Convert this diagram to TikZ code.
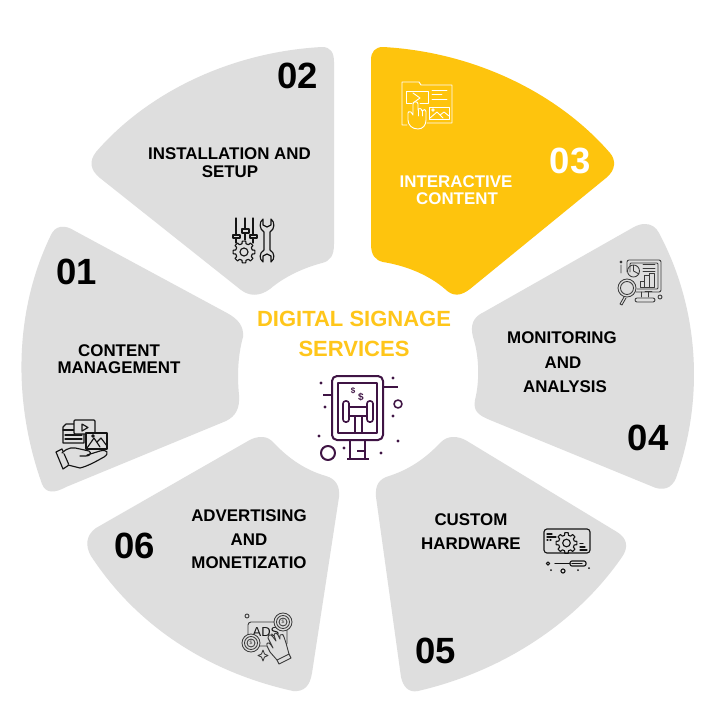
\documentclass[tikz,border=0pt]{standalone}
\usepackage{fontspec}
\setmainfont{Liberation Sans}
\definecolor{seggray}{HTML}{DEDEDE}
\definecolor{segyellow}{HTML}{FEC40D}
\definecolor{titleyellow}{HTML}{FFC61A}
\definecolor{iconpurple}{HTML}{3F1444}
\definecolor{icondark}{HTML}{141414}
\definecolor{iconsoft}{HTML}{3A3A3A}
\tikzset{
  segment/.style={fill=seggray,draw=none},
  active/.style={fill=segyellow,draw=none},
  label/.style={font=\fontsize{16.9}{18}\selectfont\bfseries,text=black,inner sep=0pt},
  whitelabel/.style={label,text=white},
  number/.style={font=\fontsize{36.5}{38}\selectfont\bfseries,text=black,inner sep=0pt},
  title/.style={font=\fontsize{22}{24}\selectfont\bfseries,text=titleyellow,inner sep=0pt},
  ico/.style={draw=icondark,line width=1.15pt,line join=round,line cap=round},
  icow/.style={draw=white,line width=0.9pt,line join=round,line cap=round},
  icos/.style={draw=iconsoft,line width=0.85pt,line join=round,line cap=round},
  icop/.style={draw=iconpurple,line width=2pt,line join=round},
  dotp/.style={fill=iconpurple,draw=none}
}
\begin{document}
\begin{tikzpicture}[x=1pt,y=-1pt]
\useasboundingbox (0,0) rectangle (705,723);
\fill[white] (0,0) rectangle (705,723);

% --- segments ---
% 01
\path[segment] (60,227) .. controls (66,226) and (70,228) .. (75,231)
  -- (227,313) .. controls (238,319) and (244,326) .. (243,337)
  .. controls (238,355) and (237,375) .. (239,395)
  .. controls (240,408) and (236,416) .. (226,421)
  -- (66,487) .. controls (55,493) and (46,494) .. (42,484)
  .. controls (12,400) and (15,310) .. (50,237)
  .. controls (53,230) and (56,228) .. (60,227) -- cycle;
% 02
\path[segment] (322,47) .. controls (331,47) and (334,53) .. (334,62)
  -- (334,244) .. controls (334,256) and (330,261) .. (322,263)
  .. controls (303,268) and (284,277) .. (270,289)
  .. controls (259,297) and (249,296) .. (241,290)
  -- (100,178) .. controls (90,170) and (89,161) .. (96,152)
  .. controls (147,93) and (230,52) .. (322,47) -- cycle;
% 03
\path[active] (383,47) .. controls (474,52) and (558,93) .. (610,153)
  .. controls (616,160) and (616,170) .. (606,178)
  -- (470,289) .. controls (461,296) and (453,297) .. (445,289)
  .. controls (430,276) and (408,266) .. (383,262)
  .. controls (375,260) and (371,255) .. (371,244)
  -- (371,60) .. controls (371,52) and (375,47) .. (383,47) -- cycle;
% 04
\path[segment] (645,224) .. controls (651,224) and (656,227) .. (659,233)
  .. controls (700,310) and (704,400) .. (676,478)
  .. controls (672,488) and (663,492) .. (651,486)
  -- (490,420) .. controls (478,415) and (473,411) .. (475,400)
  .. controls (480,380) and (479,355) .. (473,337)
  .. controls (470,325) and (473,317) .. (484,312)
  -- (634,227) .. controls (638,225) and (641,224) .. (645,224) -- cycle;
% 05
\path[segment] (453,437) .. controls (458,437) and (462,438) .. (467,441)
  -- (617,532) .. controls (627,538) and (629,547) .. (622,557)
  .. controls (575,625) and (500,672) .. (418,691)
  .. controls (408,693) and (403,686) .. (401,677)
  -- (376,497) .. controls (375,485) and (379,479) .. (389,476)
  .. controls (408,470) and (425,459) .. (440,443)
  .. controls (444,439) and (448,437) .. (453,437) -- cycle;
% 06
\path[segment] (262,437) .. controls (267,437) and (270,439) .. (274,443)
  .. controls (288,458) and (305,470) .. (326,476)
  .. controls (336,479) and (340,486) .. (339,497)
  -- (312,673) .. controls (310,686) and (304,692) .. (293,691)
  .. controls (207,672) and (136,625) .. (91,556)
  .. controls (85,546) and (86,535) .. (96,528)
  -- (248,441) .. controls (253,438) and (257,437) .. (262,437) -- cycle;

% --- texts ---
\node[number] (n01) at (77,272) {01};
\node[number] (n02) at (298,76) {02};
\node[number,text=white] (n03) at (570,161) {03};
\node[number] (n04) at (648,438) {04};
\node[number] (n05) at (436,651) {05};
\node[number] (n06) at (135,546) {06};

\node[label] (t1a) at (119,351) {CONTENT};
\node[label] (t1b) at (119,368) {MANAGEMENT};
\node[label] (t2a) at (229.5,154) {INSTALLATION AND};
\node[label] (t2b) at (230,172) {SETUP};
\node[whitelabel] (t3a) at (456,182) {INTERACTIVE};
\node[whitelabel] (t3b) at (457,199) {CONTENT};
\node[label] (t4a) at (562,338) {MONITORING};
\node[label] (t4b) at (563,363) {AND};
\node[label] (t4c) at (565,387) {ANALYSIS};
\node[label] (t5a) at (471,520) {CUSTOM};
\node[label] (t5b) at (471,544) {HARDWARE};
\node[label] (t6a) at (249,516) {ADVERTISING};
\node[label] (t6b) at (249,540) {AND};
\node[label] (t6c) at (249,563) {MONETIZATIO};

\node[title] (ta) at (354,319) {DIGITAL SIGNAGE};
\node[title] (tb) at (354,349) {SERVICES};

% --- centre icon ---
\draw[icop,rounded corners=5pt] (332,376) rectangle (383,440);
\draw[icop,line width=1.5pt] (338,383) rectangle (377,433);
\draw[icop] (323,395) -- (332,395);
\draw[icop] (383,387) -- (398,387);
\draw[icop,line width=1.6pt] (398,404) circle (4);
\draw[icop] (328,453) circle (7);
\foreach \dx/\dy in {321/383,325/407,393/378,393/416,398/441,319/436,344/448,381/453}
  \fill[dotp] (\dx,\dy) circle (1.6);
\draw[icop,line width=1.6pt,rounded corners=2.5pt] (343,401) rectangle (349,422);
\draw[icop,line width=1.6pt,rounded corners=2.5pt] (367,401) rectangle (373,422);
\draw[icop,line width=1.6pt] (349,407) rectangle (367,416);
\draw[icop,line width=1.6pt] (355,416) -- (355,433) (362,416) -- (362,433);
\draw[icop] (350,440) -- (350,459) (365,440) -- (365,459) (347,459) -- (369,459) (357,451) -- (365,451);
\node[font=\fontsize{8}{9}\selectfont\bfseries,text=iconpurple,inner sep=0pt] (d1) at (353,391) {\$};
\node[font=\fontsize{10}{10}\selectfont\bfseries,text=iconpurple,inner sep=0pt] (d2) at (361,397) {\$};

% --- icon 01 ---
\draw[ico,fill=seggray] (74,424) -- (66,424) -- (63,427) -- (63,443) -- (84,443) -- (84,433);
\draw[ico] (63,430) -- (74,430) (65,435) -- (82,435) (65,439) -- (82,439);
\draw[ico,fill=seggray,rounded corners=1pt] (74,420) rectangle (95,434);
\draw[ico] (82,424) -- (88,427.5) -- (82,431) -- cycle;
\draw[ico,fill=seggray] (86,433) rectangle (107,449);
\draw[ico] (87,448) -- (94,438) -- (100,447) (97,442) -- (101,438) -- (107,446);
\draw[ico] (93,436) circle (1.3);
\draw[ico,fill=seggray] (56,452) -- (62,449) -- (69,465) -- (63,469) -- cycle;
\draw[ico,fill=seggray] (62,453) .. controls (68,447) and (73,447) .. (80,449)
  -- (89,451) .. controls (92,453) and (90,456) .. (86,456) -- (80,456)
  (87,455) -- (100,451) .. controls (107,449) and (110,453) .. (104,457)
  .. controls (95,462) and (88,466) .. (80,468) -- (68,465);

% --- icon 02 ---
\draw[ico] (236,218) -- (236,235) (236,238) -- (236,243)
  (245,218) -- (245,229) (245,233) -- (245,240)
  (253,218) -- (253,235) (253,238) -- (253,243);
\draw[ico] (233,235) rectangle (240,238) (242,229) rectangle (249,233) (250,235) rectangle (257,238);
\begin{scope}[shift={(244,252)}]
\draw[ico] \foreach \g in {0,45,...,315} { ({\g-14}:8.5) -- ({\g-9}:11) -- ({\g+9}:11) -- ({\g+14}:8.5) -- ({\g+31}:8.5) };
\draw[ico] (0,0) circle (4);
\end{scope}
\draw[ico] (263,219) .. controls (259,222) and (259,229) .. (264,232) -- (264,250)
  .. controls (259,253) and (259,259) .. (263,262) -- (263,256) -- (267,254) -- (271,256) -- (271,262)
  .. controls (275,259) and (275,253) .. (270,250) -- (270,232)
  .. controls (275,229) and (275,222) .. (271,219) -- (271,225) -- (267,227) -- (263,225) -- cycle;

% --- icon 03 ---
\draw[icow] (407,125) -- (402,125) -- (402,82) -- (419,82) -- (421,85) -- (452,85) -- (452,123) -- (427,123);
\draw[icow] (412,103) -- (406,103) -- (406,91) -- (428,91) -- (428,103) -- (420,103);
\draw[icow] (413,93) -- (420,98) -- (413,103);
\draw[icow] (432,90) -- (447,90) (432,94) -- (442,94) (432,99) -- (447,99);
\draw[icow] (429,107) rectangle (449,119);
\draw[icow] (430,118) -- (437,112) -- (443,118) (440,115) -- (444,112) -- (449,116);
\draw[icow] (433,110) circle (1.2);
\draw[icow,fill=segyellow] (408,113) -- (408,120) .. controls (408,125) and (412,129) .. (418,129)
  .. controls (423,129) and (426,125) .. (426,120) -- (426,112)
  .. controls (426,109) and (423,109) .. (422,111)
  .. controls (422,108) and (418,108) .. (418,110) -- (418,104)
  .. controls (418,101) and (413,101) .. (413,104) -- (413,115)
  -- (411,112) .. controls (409,111) and (408,112) .. (408,113) -- cycle;
\draw[icow] (418,110) -- (418,116) (422,111) -- (422,116);

% --- icon 04 ---
\draw[icos,rounded corners=2pt] (627,272) -- (627,260) -- (661,260) -- (661,292) -- (636,292);
\draw[icos,rounded corners=1pt] (630,272) -- (630,263) -- (658,263) -- (658,289) -- (637,289);
\draw[icos] (633.5,271) circle (6) (633.5,271) -- (633.5,265) (633.5,271) -- (639,274);
\draw[icos] (643,264.5) -- (655,264.5) (643,268) -- (655,268) (643,271.5) -- (655,271.5);
\draw[icos] (640,287) rectangle (644,281) (644,287) rectangle (649,275) (649,287) rectangle (654,273);
\draw[icos,fill=seggray] (627,288) circle (9);
\draw[icos] (627,288) circle (6.5);
\draw[icos] (624,297) -- (620,304) -- (622,305) -- (626,298);
\draw[icos] (641,292) -- (641,297) (648,292) -- (648,297);
\draw[icos,rounded corners=2pt] (635,302) -- (635,298) -- (655,298) -- (655,302) -- cycle;
\draw[icos] (660,297) circle (2) (621,262) circle (1) (621,265) -- (621,273);
\draw[icos] (645,291) -- (652,291);

% --- icon 05 ---
\draw[ico,rounded corners=3pt] (544,529) rectangle (590,553);
\draw[ico] (547,534) -- (552,534) (547,537) -- (556,537) (547,540) -- (548,540) (550,540) -- (551,540);
\draw[ico] (580,547) -- (585,547) (580,550) -- (587,550) (580,543.5) -- (583,543.5);
\begin{scope}[shift={(566.5,543)}]
\draw[ico] \foreach \g in {0,45,...,315} { ({\g-14}:8) -- ({\g-9}:10.5) -- ({\g+9}:10.5) -- ({\g+14}:8) -- ({\g+31}:8) };
\draw[ico] (0,0) circle (3.8);
\end{scope}
\draw[ico] (555,563.5) -- (570,563.5);
\draw[ico,rounded corners=2pt] (570,561) rectangle (586,566);
\draw[ico] (572,563.5) -- (582,563.5);
\draw[ico] (548,563.5) circle (1.6) (563,571) circle (2);
\foreach \dx/\dy in {551/570,578/570,589/568}
  \fill[icondark] (\dx,\dy) circle (1);

% --- icon 06 ---
\draw[icos,line width=0.9pt] (247,616) circle (2);
\draw[icos,line width=0.9pt,rounded corners=3pt] (248,622) rectangle (287,646);
\node[font=\fontsize{13}{14}\selectfont,text=icondark,inner sep=0pt] (ads) at (266,632) {ADS};
\draw[icos,fill=seggray] (283,622) circle (9);
\draw[icos] (283,622) circle (6.5) (283,622) circle (4);
\node[font=\fontsize{5}{5}\selectfont,text=iconsoft,inner sep=0pt] (s1) at (283,622) {\$};
\draw[icos,fill=seggray] (251,643) circle (9);
\draw[icos] (251,643) circle (6.5) (251,643) circle (4);
\node[font=\fontsize{5}{5}\selectfont,text=iconsoft,inner sep=0pt] (s2) at (251,643) {\$};
\draw[icos,line width=0.9pt,fill=seggray] (270,652) -- (267,646) .. controls (266,642) and (269,642) .. (271,645) -- (273,648)
  -- (268,638) .. controls (268,634) and (271,634) .. (273,637)
  -- (276,641) -- (274,635) .. controls (275,632) and (277,633) .. (278,635)
  -- (280,639) -- (280,635) .. controls (282,633) and (284,635) .. (284,637)
  -- (286,643) -- (289,654) -- (277,660) -- cycle;
\draw[icos,line width=0.9pt] (277,660) -- (279,664) -- (291,658) -- (289,654);
\draw[icos] (263,650) -- (264.5,654) -- (268,655.5) -- (264.5,657) -- (263,661) -- (261.5,657) -- (258,655.5) -- (261.5,654) -- cycle;
\end{tikzpicture}
\end{document}
